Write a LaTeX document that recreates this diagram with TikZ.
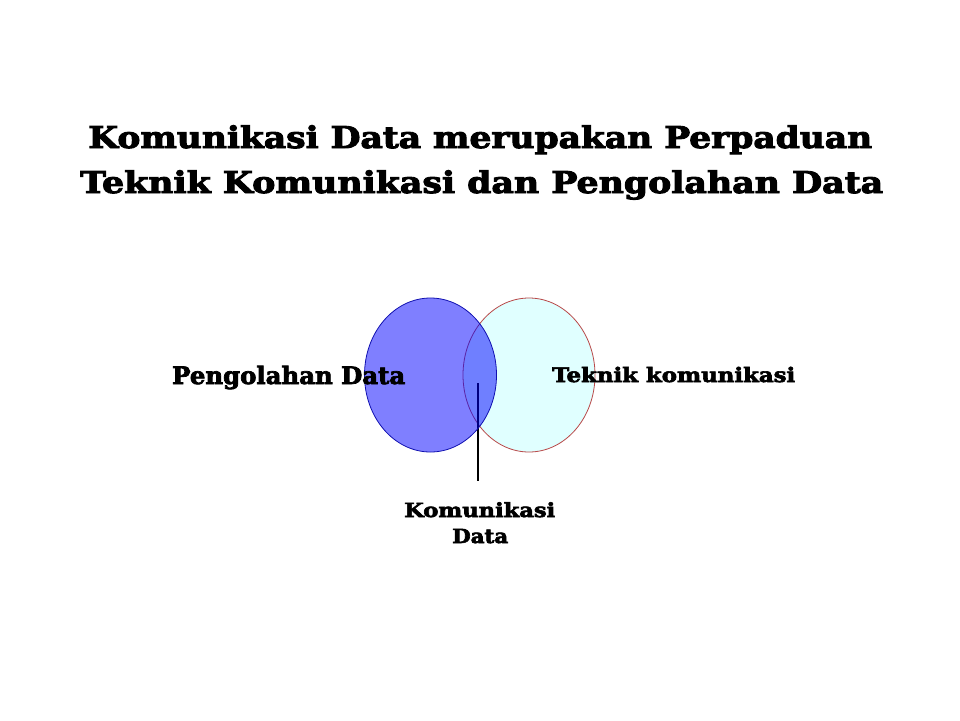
\documentclass[tikz,border=0pt]{standalone}
\usepackage{fontspec}
\usepackage{graphicx}
\setmainfont{DejaVu Serif}
\newfontfamily\fat{DejaVu Serif}[FakeBold=3]
\usetikzlibrary{shapes.geometric}
\definecolor{lcyan}{HTML}{E0FFFF}
\definecolor{redline}{HTML}{B84848}
\definecolor{blueline}{HTML}{1010B0}
\tikzset{
  lbl/.style={inner sep=0pt, anchor=base west, font=\fat\bfseries},
  set/.style={ellipse, minimum width=132pt, minimum height=154pt, inner sep=0pt, line width=0.8pt},
}
\newcommand{\wid}[2]{\resizebox{#1pt}{\height}{#2}}
\begin{document}
\begin{tikzpicture}[x=1pt,y=-1pt]
\useasboundingbox (0,0) rectangle (960,720);
\fill[white] (0,0) rectangle (960,720);
% title
\node[lbl] (t1) at (88,148) {\fontsize{30}{36}\selectfont\wid{784}{Komunikasi Data merupakan Perpaduan}};
\node[lbl] (t2) at (80,193) {\fontsize{30}{36}\selectfont\wid{803}{Teknik Komunikasi dan Pengolahan Data}};
% sets
\node[set, draw=redline, fill=lcyan] (tk) at (529,375) {};
\coordinate (lt) at (478,383);
\coordinate (lb) at (478,481);
\draw[line width=1.8pt] (lt) -- (lb);
\node[set, draw=blueline, fill=blue, fill opacity=0.5] (pd) at (430.5,375) {};
% labels
\node[lbl] (lpd) at (172,384) {\fontsize{24}{30}\selectfont\wid{233}{Pengolahan Data}};
\node[lbl] (ltk) at (552,382) {\fontsize{20}{25}\selectfont\wid{243}{Teknik komunikasi}};
\node[lbl] (kd1) at (404,517) {\fontsize{19.5}{25}\selectfont\wid{151}{Komunikasi}};
\node[lbl] (kd2) at (452,543) {\fontsize{19.5}{25}\selectfont\wid{56}{Data}};
\end{tikzpicture}
\end{document}
